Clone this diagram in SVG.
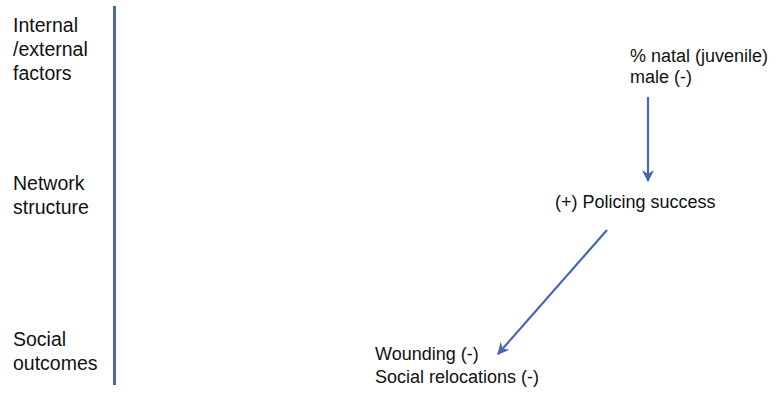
<svg xmlns="http://www.w3.org/2000/svg" width="776" height="394" viewBox="0 0 776 394">
<style>
.lab{font-family:"Liberation Sans",Arial,sans-serif;font-size:19.5px;fill:#111}
.node{font-family:"Liberation Sans",Arial,sans-serif;font-size:18px;fill:#111}
.conn{stroke:#4a64b8;stroke-width:2.2;fill:none}
</style>
<defs>
<marker id="ah" viewBox="0 0 10 10" refX="9" refY="5" markerWidth="5.5" markerHeight="5.5" orient="auto" markerUnits="strokeWidth">
<path d="M0,0 L10,5 L0,10 L3,5 Z" fill="#4a64b8"/>
</marker>
</defs>
<rect width="776" height="394" fill="#fff"/>
<line x1="114.5" y1="6" x2="114.5" y2="385" stroke="#4a64b8" stroke-width="3"/>
<g id="axis-labels">
<text class="lab" x="13" y="32">Internal</text>
<text class="lab" x="13" y="56">/external</text>
<text class="lab" x="13" y="80">factors</text>
<text class="lab" x="13" y="190">Network</text>
<text class="lab" x="13" y="214">structure</text>
<text class="lab" x="13" y="346">Social</text>
<text class="lab" x="13" y="370">outcomes</text>
</g>
<g id="natal">
<text class="node" x="630" y="62">% natal (juvenile)</text>
<text class="node" x="630" y="83">male (-)</text>
</g>
<g id="policing">
<text class="node" x="555" y="208">(+) Policing success</text>
</g>
<g id="outcomes">
<text class="node" x="375" y="360">Wounding (-)</text>
<text class="node" x="375" y="383">Social relocations (-)</text>
</g>
<g id="connectors">
<line class="conn" x1="648" y1="97" x2="648" y2="181" marker-end="url(#ah)"/>
<line class="conn" x1="607" y1="230" x2="498" y2="354" marker-end="url(#ah)"/>
</g>
</svg>
